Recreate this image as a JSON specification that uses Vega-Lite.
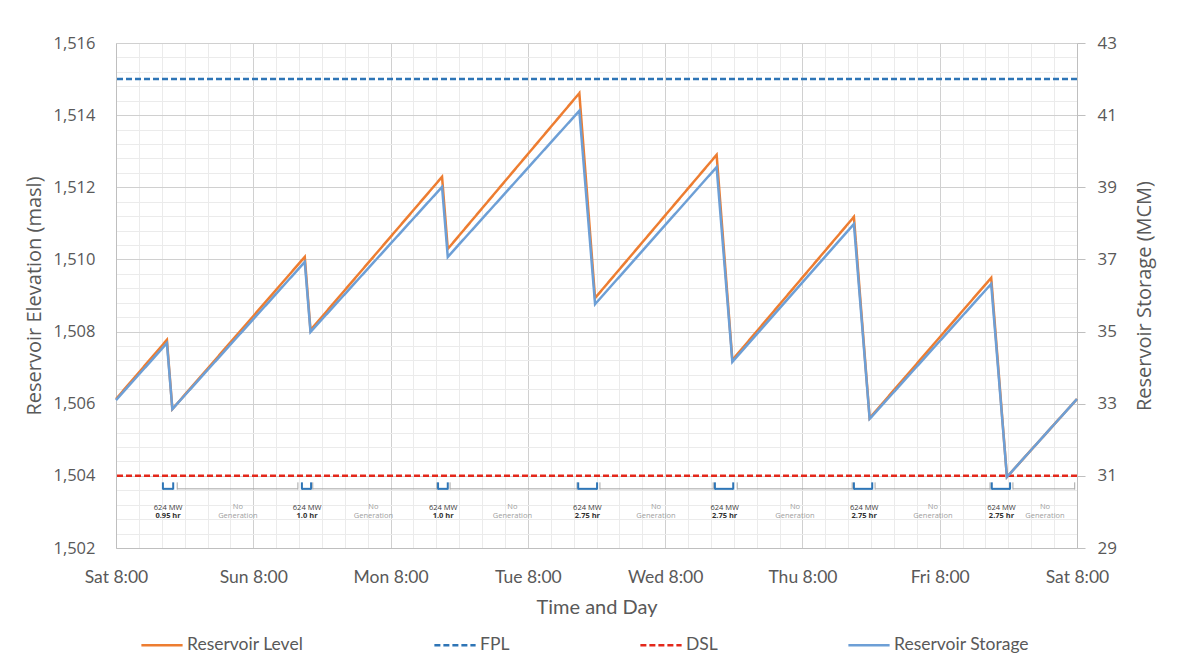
{
  "$schema": "https://vega.github.io/schema/vega-lite/v6.json",
  "width": 961,
  "height": 505,
  "autosize": {"type": "none"},
  "padding": {"left": 116, "top": 43, "right": 101, "bottom": 122},
  "background": "white",
  "config": {
    "view": {"stroke": null},
    "axis": {
      "labelFont": "Open Sans",
      "titleFont": "Open Sans",
      "labelColor": "#595959",
      "titleColor": "#595959",
      "titleFontWeight": "normal",
      "domainColor": "#bfbfbf",
      "tickColor": "#bfbfbf"
    },
    "text": {"font": "Open Sans"}
  },
  "datasets": {
    "series": [
      {"series": "Reservoir Level", "hour": 0, "value": 1506.13},
      {"series": "Reservoir Level", "hour": 8.9, "value": 1507.77},
      {"series": "Reservoir Level", "hour": 9.85, "value": 1505.85},
      {"series": "Reservoir Level", "hour": 33.0, "value": 1510.07},
      {"series": "Reservoir Level", "hour": 34.0, "value": 1508.04},
      {"series": "Reservoir Level", "hour": 57.0, "value": 1512.29},
      {"series": "Reservoir Level", "hour": 58.0, "value": 1510.29},
      {"series": "Reservoir Level", "hour": 81.0, "value": 1514.61},
      {"series": "Reservoir Level", "hour": 83.75, "value": 1508.93},
      {"series": "Reservoir Level", "hour": 105.0, "value": 1512.9},
      {"series": "Reservoir Level", "hour": 107.75, "value": 1507.21},
      {"series": "Reservoir Level", "hour": 129.0, "value": 1511.18},
      {"series": "Reservoir Level", "hour": 131.75, "value": 1505.6},
      {"series": "Reservoir Level", "hour": 153.0, "value": 1509.49},
      {"series": "Reservoir Level", "hour": 155.75, "value": 1503.97},
      {"series": "Reservoir Level", "hour": 168, "value": 1506.13},
      {"series": "FPL", "value": 1515},
      {"series": "DSL", "value": 1504},
      {"series": "Reservoir Storage", "hour": 0, "value": 33.1},
      {"series": "Reservoir Storage", "hour": 8.9, "value": 34.68},
      {"series": "Reservoir Storage", "hour": 9.85, "value": 32.85},
      {"series": "Reservoir Storage", "hour": 33.0, "value": 36.93},
      {"series": "Reservoir Storage", "hour": 34.0, "value": 34.99},
      {"series": "Reservoir Storage", "hour": 57.0, "value": 39.01},
      {"series": "Reservoir Storage", "hour": 58.0, "value": 37.07},
      {"series": "Reservoir Storage", "hour": 81.0, "value": 41.12},
      {"series": "Reservoir Storage", "hour": 83.75, "value": 35.76},
      {"series": "Reservoir Storage", "hour": 105.0, "value": 39.56},
      {"series": "Reservoir Storage", "hour": 107.75, "value": 34.16},
      {"series": "Reservoir Storage", "hour": 129.0, "value": 37.98},
      {"series": "Reservoir Storage", "hour": 131.75, "value": 32.58},
      {"series": "Reservoir Storage", "hour": 153.0, "value": 36.32},
      {"series": "Reservoir Storage", "hour": 155.75, "value": 30.97},
      {"series": "Reservoir Storage", "hour": 168, "value": 33.13}
    ],
    "periods": [
      {"kind": "Generation", "start": 8.2, "end": 10.0, "mid": 9.1, "line1": "624 MW", "line2": "0.95 hr"},
      {"kind": "No Generation", "start": 10.7, "end": 31.8, "mid": 21.3, "line1": "No", "line2": "Generation"},
      {"kind": "Generation", "start": 32.5, "end": 34.1, "mid": 33.4, "line1": "624 MW", "line2": "1.0 hr"},
      {"kind": "No Generation", "start": 34.4, "end": 56.1, "mid": 45.0, "line1": "No", "line2": "Generation"},
      {"kind": "Generation", "start": 56.3, "end": 58.0, "mid": 57.2, "line1": "624 MW", "line2": "1.0 hr"},
      {"kind": "No Generation", "start": 58.4, "end": 80.6, "mid": 69.3, "line1": "No", "line2": "Generation"},
      {"kind": "Generation", "start": 80.8, "end": 84.1, "mid": 82.4, "line1": "624 MW", "line2": "2.75 hr"},
      {"kind": "No Generation", "start": 84.6, "end": 104.4, "mid": 94.4, "line1": "No", "line2": "Generation"},
      {"kind": "Generation", "start": 104.7, "end": 107.9, "mid": 106.4, "line1": "624 MW", "line2": "2.75 hr"},
      {"kind": "No Generation", "start": 108.6, "end": 128.7, "mid": 118.7, "line1": "No", "line2": "Generation"},
      {"kind": "Generation", "start": 129.0, "end": 132.2, "mid": 130.8, "line1": "624 MW", "line2": "2.75 hr"},
      {"kind": "No Generation", "start": 132.7, "end": 152.8, "mid": 142.8, "line1": "No", "line2": "Generation"},
      {"kind": "Generation", "start": 153.1, "end": 156.3, "mid": 154.8, "line1": "624 MW", "line2": "2.75 hr"},
      {"kind": "No Generation", "start": 156.8, "end": 167.6, "mid": 162.4, "line1": "No", "line2": "Generation"}
    ]
  },
  "layer": [
    {
      "layer": [
        {
          "data": {"name": "series"},
          "transform": [{"filter": "datum.series === 'Reservoir Level'"}],
          "mark": {"type": "line", "strokeWidth": 2.5},
          "encoding": {
            "x": {
              "field": "hour",
              "type": "quantitative",
              "scale": {"domain": [0, 168], "nice": false, "zero": false},
              "axis": {
                "values": [0,4,8,12,16,20,24,28,32,36,40,44,48,52,56,60,64,68,72,76,80,84,88,92,96,100,104,108,112,116,120,124,128,132,136,140,144,148,152,156,160,164,168],
                "tickCount": 500,
                "labelExpr": "datum.value % 24 === 0 ? ['Sat','Sun','Mon','Tue','Wed','Thu','Fri','Sat'][datum.value / 24] + ' 8:00' : ''",
                "gridColor": {"condition": {"test": "datum.value % 24 === 0", "value": "#d0d0d0"}, "value": "#ebebeb"},
                "grid": true,
                "ticks": false,
                "labelOverlap": false,
                "labelFlush": false,
                "labelBound": false,
                "labelFont": "Lato",
                "labelFontSize": 17.5,
                "labelPadding": 20,
                "title": "Time and Day",
                "titleFont": "Lato",
                "titleFontSize": 20,
                "titlePadding": 12
              }
            },
            "y": {
              "field": "value",
              "type": "quantitative",
              "scale": {"domain": [1502, 1516], "nice": false, "zero": false},
              "axis": {
                "values": [1502,1502.4,1502.8,1503.2,1503.6,1504,1504.4,1504.8,1505.2,1505.6,1506,1506.4,1506.8,1507.2,1507.6,1508,1508.4,1508.8,1509.2,1509.6,1510,1510.4,1510.8,1511.2,1511.6,1512,1512.4,1512.8,1513.2,1513.6,1514,1514.4,1514.8,1515.2,1515.6,1516],
                "tickCount": 500,
                "labelExpr": "abs(datum.value - round(datum.value)) < 0.01 ? format(datum.value, ',') : ''",
                "gridColor": {"condition": {"test": "abs(datum.value - round(datum.value)) < 0.01", "value": "#d0d0d0"}, "value": "#ebebeb"},
                "grid": true,
                "ticks": false,
                "labelOverlap": false,
                "labelFontSize": 16.5,
                "labelPadding": 21,
                "title": "Reservoir Elevation (masl)",
                "titleFontSize": 20,
                "titlePadding": 8
              }
            },
            "color": {
              "field": "series",
              "type": "nominal",
              "scale": {
                "domain": ["Reservoir Level", "FPL", "DSL", "Reservoir Storage"],
                "range": ["#ed7d31", "#2e75b6", "#e3281b", "#6d9fd6"]
              },
              "legend": {
                "title": null,
                "orient": "none",
                "legendX": 24,
                "legendY": 580,
                "direction": "horizontal",
                "symbolType": "stroke",
                "symbolSize": 1700,
                "symbolStrokeWidth": 2.5,
                "labelFont": "Lato",
                "labelFontSize": 17.5,
                "labelColor": "#595959",
                "labelOffset": 3,
                "columnPadding": 125
              }
            },
            "strokeDash": {
              "field": "series",
              "type": "nominal",
              "scale": {
                "domain": ["Reservoir Level", "FPL", "DSL", "Reservoir Storage"],
                "range": [[1, 0], [6, 3], [6, 3], [1, 0]]
              },
              "legend": {"title": null}
            }
          }
        },
        {
          "data": {"name": "series"},
          "transform": [{"filter": "datum.series === 'FPL' || datum.series === 'DSL'"}],
          "mark": {"type": "rule", "strokeWidth": 2.5},
          "encoding": {
            "y": {"field": "value", "type": "quantitative"},
            "color": {"field": "series", "type": "nominal"},
            "strokeDash": {"field": "series", "type": "nominal"}
          }
        },
        {
          "data": {"name": "periods"},
          "mark": {"type": "rule"},
          "encoding": {
            "x": {"field": "start", "type": "quantitative"},
            "x2": {"field": "end"},
            "y": {"datum": 1503.64, "type": "quantitative"},
            "stroke": {"condition": {"test": "datum.kind === 'Generation'", "value": "#2e75b6"}, "value": "#a6a6a6"},
            "strokeWidth": {"condition": {"test": "datum.kind === 'Generation'", "value": 2}, "value": 1}
          }
        },
        {
          "data": {"name": "periods"},
          "transform": [{"fold": ["start", "end"], "as": ["edge", "t"]}],
          "mark": {"type": "rule"},
          "encoding": {
            "x": {"field": "t", "type": "quantitative"},
            "y": {"datum": 1503.62, "type": "quantitative"},
            "y2": {"datum": 1503.82},
            "stroke": {"condition": {"test": "datum.kind === 'Generation'", "value": "#2e75b6"}, "value": "#a6a6a6"},
            "strokeWidth": {"condition": {"test": "datum.kind === 'Generation'", "value": 2}, "value": 1}
          }
        },
        {
          "data": {"name": "periods"},
          "transform": [{"filter": "datum.kind === 'Generation'"}],
          "mark": {"type": "text", "fontSize": 7.5, "color": "#404040", "baseline": "middle"},
          "encoding": {
            "x": {"field": "mid", "type": "quantitative"},
            "y": {"datum": 1503.12, "type": "quantitative"},
            "text": {"field": "line1"}
          }
        },
        {
          "data": {"name": "periods"},
          "transform": [{"filter": "datum.kind === 'Generation'"}],
          "mark": {"type": "text", "fontSize": 7.5, "color": "#303030", "fontWeight": "bold", "baseline": "middle"},
          "encoding": {
            "x": {"field": "mid", "type": "quantitative"},
            "y": {"datum": 1502.88, "type": "quantitative"},
            "text": {"field": "line2"}
          }
        },
        {
          "data": {"name": "periods"},
          "transform": [{"filter": "datum.kind === 'No Generation'"}],
          "mark": {"type": "text", "fontSize": 7.5, "color": "#a0a0a0", "baseline": "middle"},
          "encoding": {
            "x": {"field": "mid", "type": "quantitative"},
            "y": {"datum": 1503.14, "type": "quantitative"},
            "text": {"field": "line1"}
          }
        },
        {
          "data": {"name": "periods"},
          "transform": [{"filter": "datum.kind === 'No Generation'"}],
          "mark": {"type": "text", "fontSize": 7.5, "color": "#a0a0a0", "baseline": "middle"},
          "encoding": {
            "x": {"field": "mid", "type": "quantitative"},
            "y": {"datum": 1502.89, "type": "quantitative"},
            "text": {"field": "line2"}
          }
        }
      ]
    },
    {
      "data": {"name": "series"},
      "transform": [{"filter": "datum.series === 'Reservoir Storage'"}],
      "mark": {"type": "line", "strokeWidth": 2.5},
      "encoding": {
        "x": {"field": "hour", "type": "quantitative"},
        "y": {
          "field": "value",
          "type": "quantitative",
          "scale": {"domain": [29, 43], "nice": false, "zero": false},
          "axis": {
            "orient": "right",
            "values": [29, 31, 33, 35, 37, 39, 41, 43],
            "grid": false,
            "ticks": true,
            "tickSize": 8,
            "labelPadding": 12,
            "labelFontSize": 17,
            "title": "Reservoir Storage (MCM)",
            "titleAngle": -90,
            "titleFontSize": 20,
            "titlePadding": 38
          }
        },
        "color": {"field": "series", "type": "nominal"},
        "strokeDash": {"field": "series", "type": "nominal"}
      }
    }
  ],
  "resolve": {"scale": {"y": "independent"}}
}
